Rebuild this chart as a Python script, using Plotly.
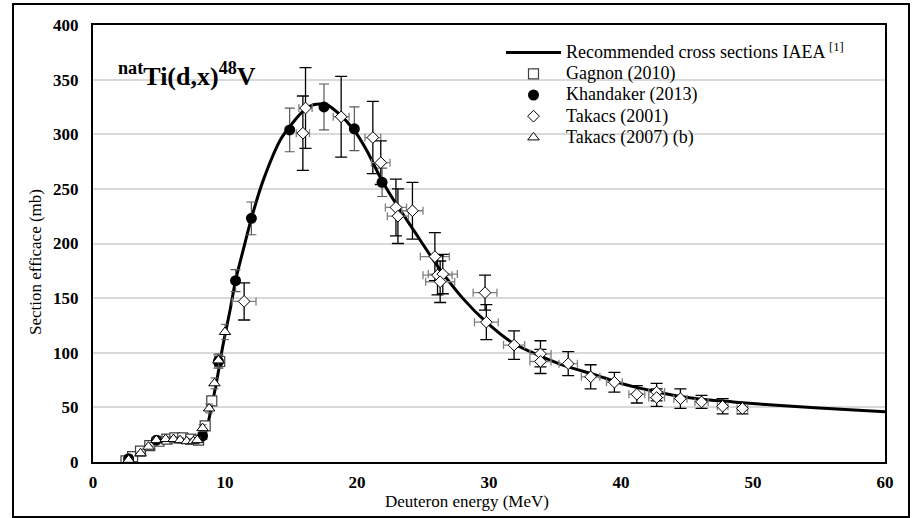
import plotly.graph_objects as go

# IAEA recommended curve
iaea_E = [2.2, 2.8, 3.5, 4.1, 5.0, 6.0, 7.0, 8.0, 8.5, 9.0, 9.4, 9.8, 10.4, 10.8, 11.4, 12.0,
          12.9, 14.2, 14.9, 15.9, 16.7, 17.7, 18.7, 19.7, 20.7, 21.7, 22.5, 24.3, 26.3, 28.0,
          29.8, 31.8, 33.9, 36.0, 38.0, 40.0, 42.4, 44.5, 46.5, 48.5, 50.5, 55.0, 60.0]
iaea_xs = [0, 4, 9, 14, 18, 20, 20.5, 21, 27, 52, 76, 104, 140, 166, 195, 223,
           258, 295, 307, 321, 327, 327, 318, 305, 286, 262, 245, 212, 176, 150,
           128, 109, 97, 87, 80, 72, 65, 60, 57, 55, 53, 49.5, 46]

# Gagnon (2010)
gag_E = [2.5, 3.0, 3.6, 4.3, 5.0, 5.6, 6.2, 6.8, 7.4, 8.0, 8.5, 9.0, 9.6]
gag_xs = [1, 5, 10, 15, 19, 21, 22, 22, 21, 20, 33, 56, 92]
gag_err = [1, 1, 1, 1, 2, 2, 2, 2, 2, 2, 3, 4, 6]

# Khandaker (2013)
kha_E = [2.7, 4.8, 8.3, 9.5, 10.8, 12.0, 14.9, 17.5, 19.8, 21.9]
kha_xs = [3, 20, 24, 92, 166, 223, 304, 325, 305, 256]
kha_err = [1, 2, 3, 6, 10, 15, 20, 21, 20, 13]
kha_errE = [0.2, 0.2, 0.2, 0.2, 0.3, 0.3, 0.3, 0.3, 0.3, 0.3]

# Takacs (2001)
t01_E = [11.45, 15.9, 16.1, 18.8, 21.2, 21.8, 22.95, 23.1, 24.2, 25.9, 26.1, 26.5, 26.3, 29.7,
         29.8, 31.9, 33.9, 33.9, 36.0, 37.7, 39.5, 41.2, 42.7, 42.7, 44.5, 46.1, 47.7, 49.2]
t01_xs = [147, 301, 324, 316, 297, 274, 233, 225, 230, 188, 171, 172, 165, 155,
          128, 107, 99, 92, 90, 78, 73, 62, 64, 59, 58, 55, 51, 49]
t01_err = [17, 34, 37, 37, 33, 20, 26, 25, 26, 22, 18, 18, 19, 16,
           16, 13, 12, 11, 11, 11, 9, 8, 8, 8, 9, 6, 7, 5]
t01_errE = [0.9, 0.5, 0.5, 0.6, 0.6, 0.7, 0.8, 0.8, 0.8, 1.1, 1.1, 1.1, 1.1, 0.9,
            0.9, 0.8, 0.8, 0.8, 0.7, 0.7, 0.6, 0.6, 0.6, 0.6, 0.5, 0.5, 0.4, 0.4]

# Takacs (2007) (b)
t07_E = [2.7, 3.6, 4.2, 4.8, 5.5, 6.1, 6.6, 7.1, 7.6, 7.9, 8.3, 8.8, 9.2, 9.5, 10.0]
t07_xs = [2, 8, 14, 20, 21, 21, 20, 19, 19, 20, 31, 49, 72, 93, 119]
t07_err = [1, 1, 1, 2, 2, 2, 2, 2, 2, 2, 3, 4, 5, 6, 7]

series_names = ["Recommended cross sections IAEA <sup>[1]</sup>", "Gagnon (2010)",
                "Khandaker (2013)", "Takacs (2001)", "Takacs (2007) (b)"]

FONT = "Liberation Serif"
W, H = 913, 518
L, R, T, B = 93, 28, 25, 56
pw, ph = W - L - R, H - T - B


def px_x(p):
    return (p - L) / pw


def px_y(p):
    return (H - B - p) / ph


def lg(name):
    return '<span style="font-size:18px">' + name + '</span>'


fig = go.Figure()

fig.add_trace(go.Scatter(
    x=iaea_E, y=iaea_xs, mode="lines", name=lg(series_names[0]),
    line=dict(color="black", width=3, shape="spline", smoothing=0.8)))

fig.add_trace(go.Scatter(
    x=gag_E, y=gag_xs, mode="markers", name=lg(series_names[1]),
    marker=dict(symbol="square", size=10, color="white", line=dict(color="#404040", width=1.2)),
    error_y=dict(type="data", array=gag_err, color="#595959", thickness=1, width=3)))

fig.add_trace(go.Scatter(
    x=kha_E, y=kha_xs, mode="markers", name=lg(series_names[2]),
    marker=dict(symbol="circle", size=11, color="black", line=dict(color="black", width=0)),
    error_y=dict(type="data", array=kha_err, color="#595959", thickness=1.2, width=5),
    error_x=dict(type="data", array=kha_errE, color="#595959", thickness=1, width=3)))

fig.add_trace(go.Scatter(
    x=t01_E, y=t01_xs, mode="markers", name=lg(series_names[3]),
    marker=dict(symbol="diamond", size=9, color="white", line=dict(color="black", width=1)),
    error_y=dict(type="data", array=t01_err, color="black", thickness=1.3, width=6),
    error_x=dict(type="data", array=t01_errE, color="#808080", thickness=1.3, width=4)))

fig.add_trace(go.Scatter(
    x=t07_E, y=t07_xs, mode="markers", name=lg(series_names[4]),
    marker=dict(symbol="triangle-up", size=10, color="white", line=dict(color="black", width=1)),
    error_y=dict(type="data", array=t07_err, color="#595959", thickness=1, width=4)))

axis_common = dict(
    showline=True, linecolor="black", linewidth=2, mirror=True,
    ticks="", zeroline=False,
    tickfont=dict(family=FONT, size=17, color="black", weight="bold"),
)

fig.update_layout(
    width=W, height=H,
    margin=dict(l=L, r=R, t=T, b=B),
    paper_bgcolor="white", plot_bgcolor="white",
    font=dict(family=FONT, color="black"),
    xaxis=dict(range=[0, 60], dtick=10, tick0=0, showgrid=False, ticklabelstandoff=4, **axis_common),
    yaxis=dict(range=[0, 400], dtick=50, tick0=0, showgrid=True, gridcolor="#d9d9d9",
               gridwidth=1.5, ticklabelstandoff=9, **axis_common),
    legend=dict(x=px_x(501), y=px_y(37), xanchor="left", yanchor="top",
                font=dict(family=FONT, size=14, color="black"),
                bgcolor="rgba(0,0,0,0)", borderwidth=0, tracegroupgap=0, itemwidth=55),
    showlegend=True,
)

fig.add_annotation(
    x=px_x(116), y=px_y(75), xref="paper", yref="paper", xanchor="left", yanchor="middle",
    text="<b><sup>nat</sup>Ti(d,x)<sup>48</sup>V</b>", showarrow=False,
    font=dict(family=FONT, size=26, color="black"))

fig.add_annotation(
    x=px_x(467), y=px_y(501), xref="paper", yref="paper", xanchor="center", yanchor="middle",
    text="Deuteron energy (MeV)", showarrow=False,
    font=dict(family=FONT, size=17, color="black"))

fig.add_annotation(
    x=px_x(35), y=px_y(262), xref="paper", yref="paper", xanchor="center", yanchor="middle",
    text="Section efficace (mb)", showarrow=False, textangle=-90,
    font=dict(family=FONT, size=17, color="black"))

# outer frame
fig.add_shape(type="rect", xref="paper", yref="paper",
              x0=px_x(13), x1=px_x(909), y0=px_y(517), y1=px_y(4),
              line=dict(color="black", width=2), layer="below")

fig.write_html("out.html")
